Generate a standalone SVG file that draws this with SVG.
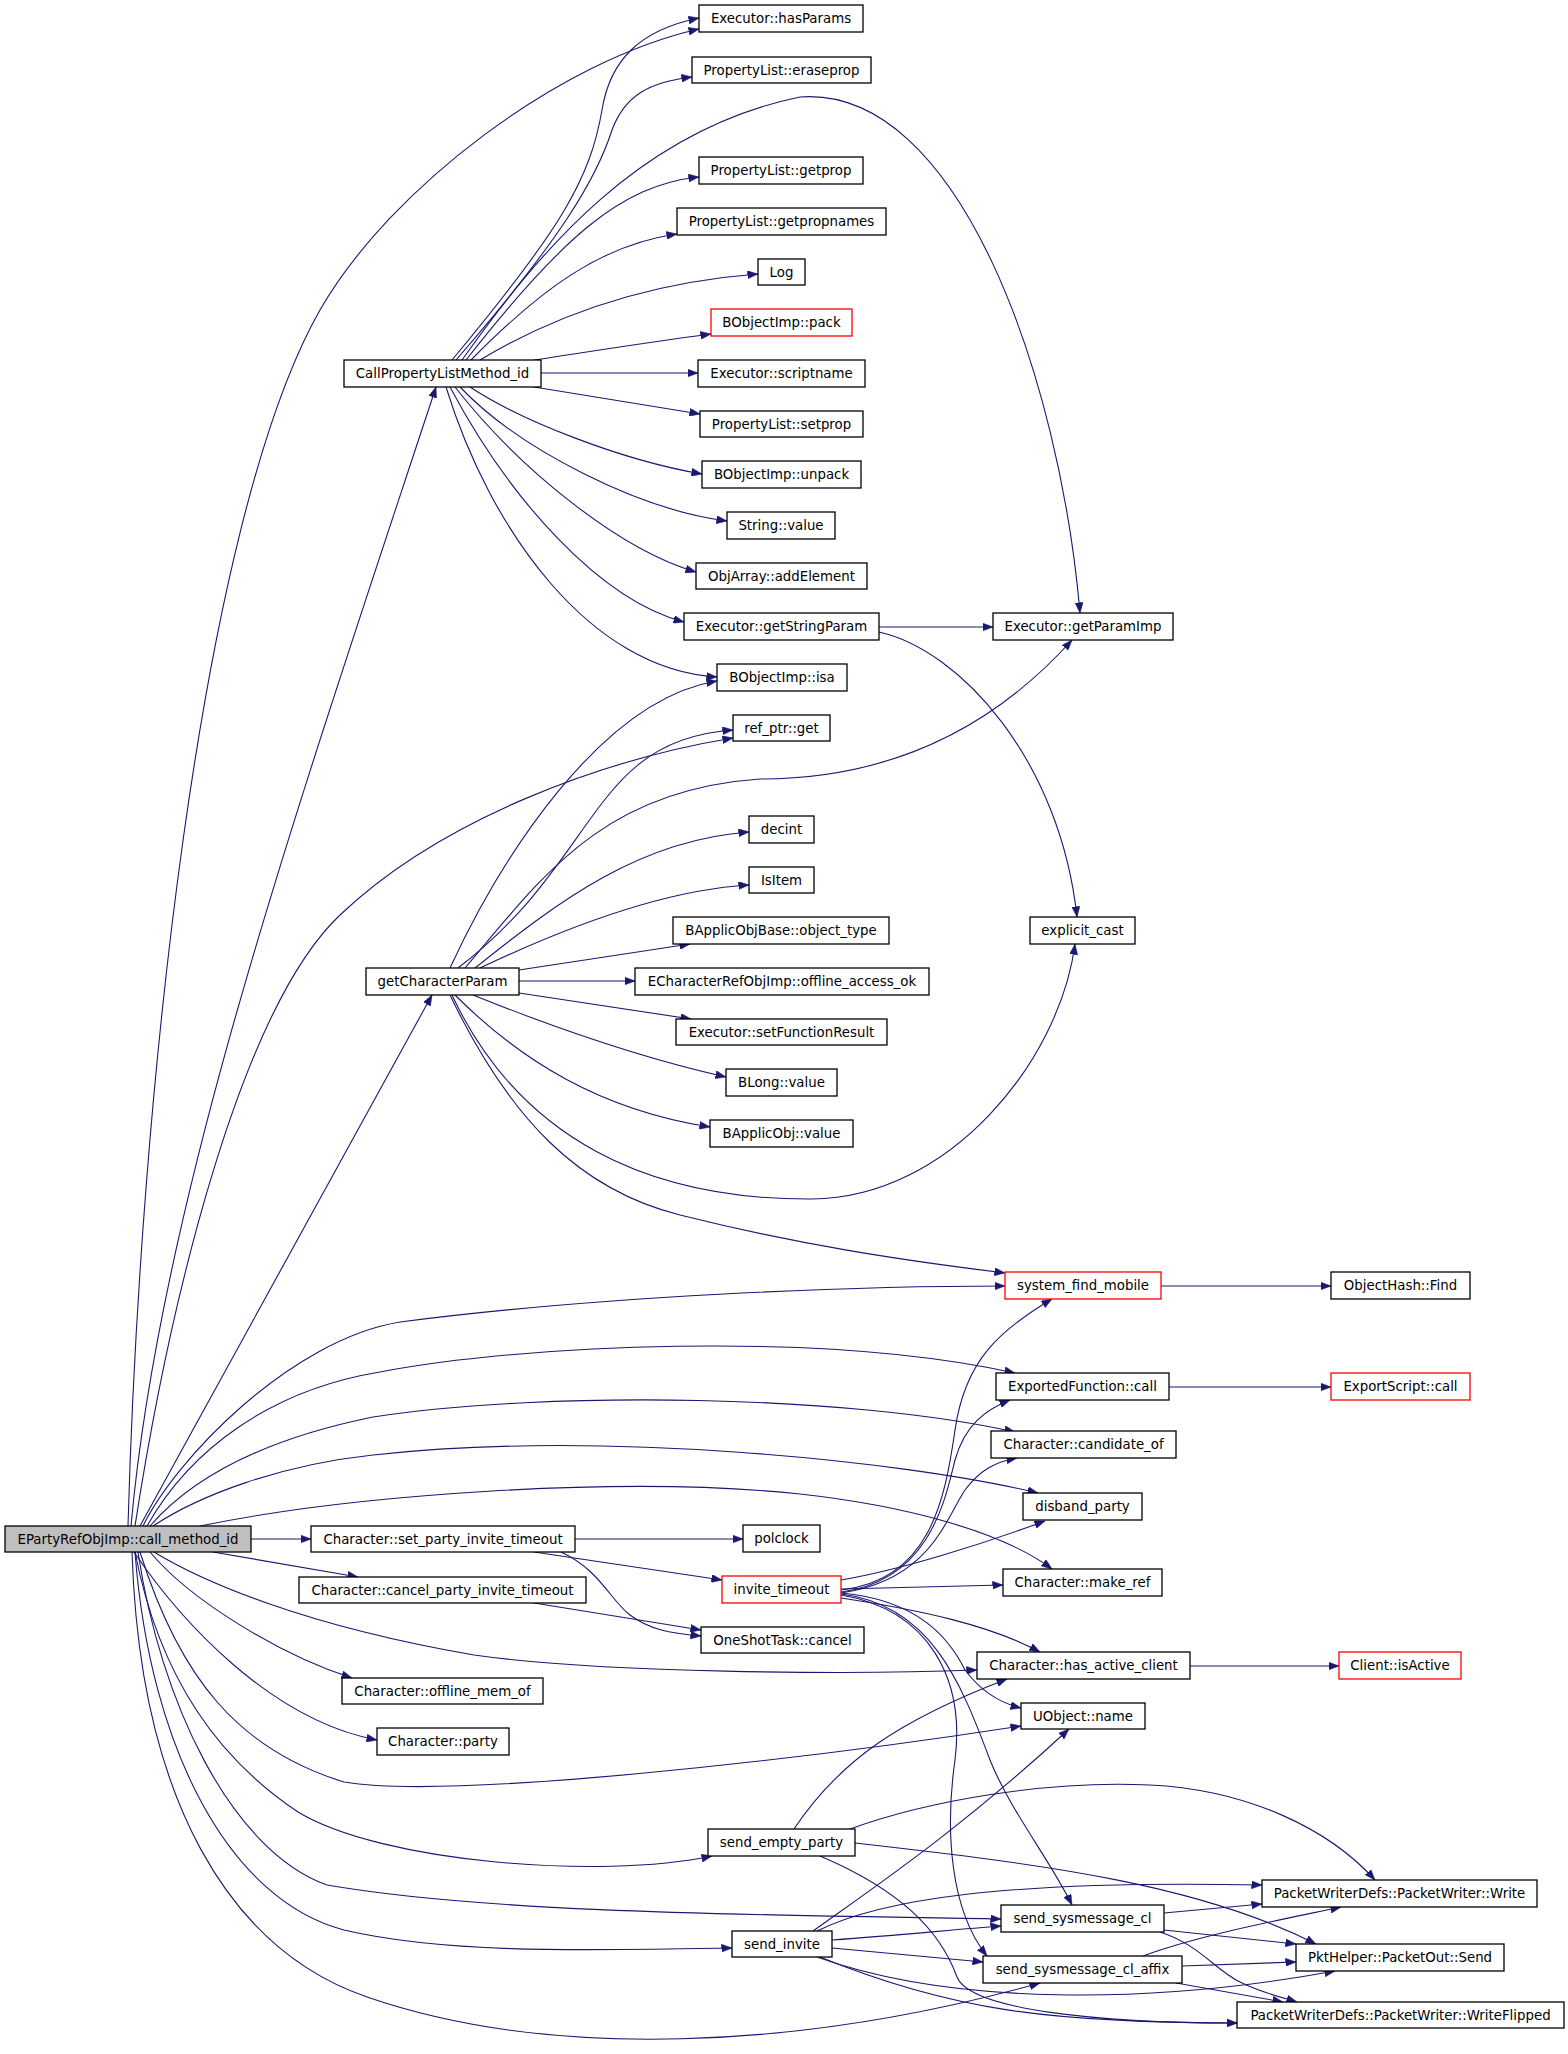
<svg xmlns="http://www.w3.org/2000/svg" width="1568" height="2054" viewBox="0 0 1568 2054">
<style>
rect{fill:#ffffff;stroke:#000000;stroke-width:1.3}
rect.red{stroke:#ff0000}
rect.root{fill:#bfbfbf}
text{font-family:"DejaVu Sans","Liberation Sans",sans-serif;font-size:13.33px;fill:#000000;text-anchor:middle}
#edges path{fill:none;stroke:#191970;stroke-width:1.1;marker-end:url(#arr)}
</style>
<defs>
<marker id="arr" markerUnits="userSpaceOnUse" markerWidth="11" markerHeight="8" refX="10.5" refY="4" orient="auto">
<path d="M0,0 L10.5,4 L0,8 z" fill="#191970" stroke="#191970" stroke-width="0.5"/>
</marker>
</defs>
<rect x="0" y="0" width="1568" height="2054" style="fill:#ffffff;stroke:none"/>
<g id="edges">
<path d="M128,1526 C140,1100 200,520 320,310 C390,188 560,60 699,29"/>
<path d="M131,1526 C160,1200 300,800 436,387"/>
<path d="M135,1526 C170,1300 240,1010 340,915 C440,820 600,760 733,738"/>
<path d="M140,1526 L432,995"/>
<path d="M143,1526 C175,1460 290,1340 400,1322 C600,1296 850,1286 1005,1286"/>
<path d="M147,1526 C190,1450 270,1390 380,1372 C520,1345 820,1330 1015,1373"/>
<path d="M150,1526 C190,1480 260,1440 373,1417 C550,1390 850,1395 1015,1432"/>
<path d="M153,1526 C200,1495 280,1465 373,1455 C600,1430 900,1460 1038,1493"/>
<path d="M200,1526 C350,1495 620,1475 800,1494 C900,1505 1000,1530 1052,1569"/>
<path d="M251,1539 L311,1539"/>
<path d="M213,1552 L358,1577"/>
<path d="M154,1552 C200,1580 300,1625 474,1655 C600,1673 850,1675 977,1670"/>
<path d="M150,1552 C190,1600 280,1655 352,1678"/>
<path d="M134,1552 C180,1620 270,1720 377,1740"/>
<path d="M140,1552 C180,1680 240,1750 344,1782 C450,1800 800,1760 1021,1726"/>
<path d="M135,1552 C160,1680 220,1760 298,1812 C380,1862 600,1880 712,1856"/>
<path d="M138,1552 C160,1700 230,1850 327,1885 C500,1915 800,1915 1001,1919"/>
<path d="M135,1552 C150,1750 230,1900 344,1930 C450,1955 600,1950 732,1948"/>
<path d="M132,1552 C140,1800 230,1950 367,1997 C550,2060 800,2050 1040,1983"/>
<path d="M452,360 C560,230 590,180 602,110 C610,60 640,30 699,18"/>
<path d="M456,360 C560,240 596,180 612,130 C625,95 650,82 692,77"/>
<path d="M462,360 C540,250 640,130 800,97 C960,85 1060,380 1080,613"/>
<path d="M466,360 C560,240 620,185 699,177"/>
<path d="M471,360 C540,290 600,245 677,234"/>
<path d="M480,360 C580,300 680,280 758,274"/>
<path d="M534,360 C600,350 650,342 711,334"/>
<path d="M541,373 L698,373"/>
<path d="M534,387 L700,414"/>
<path d="M470,387 C520,420 620,460 702,474"/>
<path d="M460,387 C520,450 640,510 727,521"/>
<path d="M455,387 C520,470 620,550 696,572"/>
<path d="M450,387 C510,500 600,600 684,622"/>
<path d="M446,387 C490,530 590,670 717,677"/>
<path d="M879,627 L993,627"/>
<path d="M879,632 C960,650 1060,760 1077,917"/>
<path d="M450,968 C500,860 600,700 717,681"/>
<path d="M458,968 C600,860 590,740 733,730"/>
<path d="M465,968 C540,880 600,790 760,779 C900,779 1000,720 1072,640"/>
<path d="M475,968 C560,900 640,840 749,832"/>
<path d="M480,968 C560,930 660,890 749,885"/>
<path d="M519,970 L690,944"/>
<path d="M519,981 L635,981"/>
<path d="M519,993 L691,1019"/>
<path d="M473,995 C560,1030 650,1060 726,1077"/>
<path d="M455,995 C520,1060 600,1110 710,1127"/>
<path d="M452,995 C520,1140 650,1200 812,1199 C950,1198 1060,1060 1075,944"/>
<path d="M450,995 C510,1120 580,1190 680,1215 C800,1245 900,1260 1005,1273"/>
<path d="M1161,1286 L1331,1286"/>
<path d="M1169,1387 L1331,1387"/>
<path d="M1190,1666 L1339,1666"/>
<path d="M575,1539 L743,1539"/>
<path d="M534,1552 L722,1580"/>
<path d="M561,1552 C600,1570 610,1600 630,1615 C650,1630 670,1633 701,1636"/>
<path d="M534,1603 L701,1630"/>
<path d="M841,1580 C900,1570 980,1545 1045,1521"/>
<path d="M841,1589 L1003,1585"/>
<path d="M841,1590 C930,1580 945,1500 955,1430 C965,1360 1000,1330 1052,1299"/>
<path d="M841,1592 C930,1580 945,1500 955,1460 C965,1425 985,1410 1010,1400"/>
<path d="M841,1593 C930,1580 945,1520 965,1490 C980,1470 995,1462 1017,1458"/>
<path d="M841,1598 C920,1610 990,1625 1040,1652"/>
<path d="M841,1593 C920,1600 950,1640 965,1670 C980,1690 1000,1703 1021,1708"/>
<path d="M841,1594 C930,1605 960,1680 990,1760 C1010,1810 1050,1860 1072,1905"/>
<path d="M841,1595 C930,1610 965,1680 955,1760 C945,1830 950,1910 987,1956"/>
<path d="M794,1829 C840,1760 900,1720 1007,1679"/>
<path d="M850,1829 C930,1800 1050,1780 1150,1785 C1250,1790 1330,1830 1375,1880"/>
<path d="M855,1843 C1050,1865 1200,1885 1316,1944"/>
<path d="M820,1856 C900,1890 940,1930 957,1977 C970,2010 1100,2023 1237,2023"/>
<path d="M813,1931 C870,1890 960,1830 1069,1729"/>
<path d="M817,1931 C880,1900 1000,1880 1262,1885"/>
<path d="M832,1940 C900,1935 950,1930 1001,1926"/>
<path d="M832,1948 C880,1952 930,1957 983,1962"/>
<path d="M817,1957 C950,2005 1150,2005 1335,1971"/>
<path d="M820,1957 C950,2010 1050,2023 1237,2023"/>
<path d="M1164,1913 L1262,1904"/>
<path d="M1164,1930 L1296,1944"/>
<path d="M1160,1932 C1200,1945 1215,1970 1240,1982 C1260,1992 1280,1997 1297,2002"/>
<path d="M1143,1956 C1200,1935 1280,1920 1341,1907"/>
<path d="M1182,1966 L1296,1962"/>
<path d="M1176,1983 L1283,2002"/>
</g>
<g id="n_root"><rect class="root" x="5" y="1526" width="246" height="26"/><text x="128" y="1544">EPartyRefObjImp::call_method_id</text></g>
<g id="n_callprop"><rect x="344" y="360" width="197" height="27"/><text x="442.5" y="378">CallPropertyListMethod_id</text></g>
<g id="n_getcharparam"><rect x="366" y="968" width="153" height="27"/><text x="442.5" y="986">getCharacterParam</text></g>
<g id="n_hasparams"><rect x="699" y="5" width="164" height="27"/><text x="781" y="23">Executor::hasParams</text></g>
<g id="n_eraseprop"><rect x="692" y="57" width="179" height="26"/><text x="781.5" y="75">PropertyList::eraseprop</text></g>
<g id="n_getprop"><rect x="699" y="157" width="164" height="27"/><text x="781" y="175">PropertyList::getprop</text></g>
<g id="n_getpropnames"><rect x="677" y="208" width="209" height="27"/><text x="781.5" y="226">PropertyList::getpropnames</text></g>
<g id="n_log"><rect x="758" y="259" width="47" height="26"/><text x="781.5" y="277">Log</text></g>
<g id="n_pack"><rect class="red" x="711" y="309" width="141" height="27"/><text x="781.5" y="327">BObjectImp::pack</text></g>
<g id="n_scriptname"><rect x="698" y="360" width="167" height="27"/><text x="781.5" y="378">Executor::scriptname</text></g>
<g id="n_setprop"><rect x="700" y="411" width="163" height="26"/><text x="781.5" y="429">PropertyList::setprop</text></g>
<g id="n_unpack"><rect x="702" y="461" width="159" height="27"/><text x="781.5" y="479">BObjectImp::unpack</text></g>
<g id="n_stringvalue"><rect x="727" y="512" width="108" height="27"/><text x="781" y="530">String::value</text></g>
<g id="n_addelement"><rect x="696" y="563" width="171" height="26"/><text x="781.5" y="581">ObjArray::addElement</text></g>
<g id="n_getstringparam"><rect x="684" y="613" width="195" height="27"/><text x="781.5" y="631">Executor::getStringParam</text></g>
<g id="n_isa"><rect x="717" y="664" width="130" height="27"/><text x="782" y="682">BObjectImp::isa</text></g>
<g id="n_refptrget"><rect x="733" y="715" width="97" height="26"/><text x="781.5" y="733">ref_ptr::get</text></g>
<g id="n_getparamimp"><rect x="993" y="613" width="180" height="27"/><text x="1083" y="631">Executor::getParamImp</text></g>
<g id="n_decint"><rect x="749" y="816" width="65" height="27"/><text x="781.5" y="834">decint</text></g>
<g id="n_isitem"><rect x="749" y="867" width="65" height="26"/><text x="781.5" y="885">IsItem</text></g>
<g id="n_objecttype"><rect x="673" y="917" width="216" height="27"/><text x="781" y="935">BApplicObjBase::object_type</text></g>
<g id="n_offlineaccess"><rect x="635" y="968" width="294" height="27"/><text x="782" y="986">ECharacterRefObjImp::offline_access_ok</text></g>
<g id="n_setfuncresult"><rect x="676" y="1019" width="211" height="26"/><text x="781.5" y="1037">Executor::setFunctionResult</text></g>
<g id="n_blongvalue"><rect x="726" y="1069" width="111" height="27"/><text x="781.5" y="1087">BLong::value</text></g>
<g id="n_bapplicobjvalue"><rect x="710" y="1120" width="143" height="27"/><text x="781.5" y="1138">BApplicObj::value</text></g>
<g id="n_explicitcast"><rect x="1030" y="917" width="105" height="27"/><text x="1082.5" y="935">explicit_cast</text></g>
<g id="n_sysfindmobile"><rect class="red" x="1005" y="1272" width="156" height="27"/><text x="1083" y="1290">system_find_mobile</text></g>
<g id="n_objecthashfind"><rect x="1331" y="1272" width="139" height="27"/><text x="1400.5" y="1290">ObjectHash::Find</text></g>
<g id="n_exportedfunccall"><rect x="996" y="1373" width="173" height="27"/><text x="1082.5" y="1391">ExportedFunction::call</text></g>
<g id="n_exportscriptcall"><rect class="red" x="1331" y="1373" width="139" height="27"/><text x="1400.5" y="1391">ExportScript::call</text></g>
<g id="n_candidateof"><rect x="991" y="1431" width="185" height="27"/><text x="1083.5" y="1449">Character::candidate_of</text></g>
<g id="n_disbandparty"><rect x="1023" y="1493" width="119" height="27"/><text x="1082.5" y="1511">disband_party</text></g>
<g id="n_polclock"><rect x="743" y="1525" width="77" height="27"/><text x="781.5" y="1543">polclock</text></g>
<g id="n_setpartyinvite"><rect x="311" y="1526" width="264" height="26"/><text x="443" y="1544">Character::set_party_invite_timeout</text></g>
<g id="n_invitetimeout"><rect class="red" x="722" y="1576" width="119" height="27"/><text x="781.5" y="1594">invite_timeout</text></g>
<g id="n_makeref"><rect x="1003" y="1569" width="159" height="27"/><text x="1082.5" y="1587">Character::make_ref</text></g>
<g id="n_cancelpartyinvite"><rect x="299" y="1577" width="287" height="26"/><text x="442.5" y="1595">Character::cancel_party_invite_timeout</text></g>
<g id="n_oneshotcancel"><rect x="701" y="1627" width="163" height="26"/><text x="782.5" y="1645">OneShotTask::cancel</text></g>
<g id="n_hasactiveclient"><rect x="977" y="1652" width="213" height="27"/><text x="1083.5" y="1670">Character::has_active_client</text></g>
<g id="n_clientisactive"><rect class="red" x="1339" y="1652" width="122" height="27"/><text x="1400" y="1670">Client::isActive</text></g>
<g id="n_offlinememof"><rect x="342" y="1678" width="201" height="26"/><text x="442.5" y="1696">Character::offline_mem_of</text></g>
<g id="n_uobjectname"><rect x="1021" y="1703" width="124" height="26"/><text x="1083" y="1721">UObject::name</text></g>
<g id="n_party"><rect x="377" y="1728" width="132" height="27"/><text x="443" y="1746">Character::party</text></g>
<g id="n_sendemptyparty"><rect x="708" y="1829" width="147" height="27"/><text x="781.5" y="1847">send_empty_party</text></g>
<g id="n_pwwrite"><rect x="1262" y="1880" width="275" height="27"/><text x="1399.5" y="1898">PacketWriterDefs::PacketWriter::Write</text></g>
<g id="n_sendsysmsgcl"><rect x="1001" y="1905" width="163" height="27"/><text x="1082.5" y="1923">send_sysmessage_cl</text></g>
<g id="n_sendinvite"><rect x="732" y="1931" width="100" height="26"/><text x="782" y="1949">send_invite</text></g>
<g id="n_pktsend"><rect x="1296" y="1944" width="208" height="27"/><text x="1400" y="1962">PktHelper::PacketOut::Send</text></g>
<g id="n_sendsysmsgclaffix"><rect x="983" y="1956" width="199" height="27"/><text x="1082.5" y="1974">send_sysmessage_cl_affix</text></g>
<g id="n_pwwriteflipped"><rect x="1237" y="2002" width="327" height="26"/><text x="1400.5" y="2020">PacketWriterDefs::PacketWriter::WriteFlipped</text></g>
</svg>
